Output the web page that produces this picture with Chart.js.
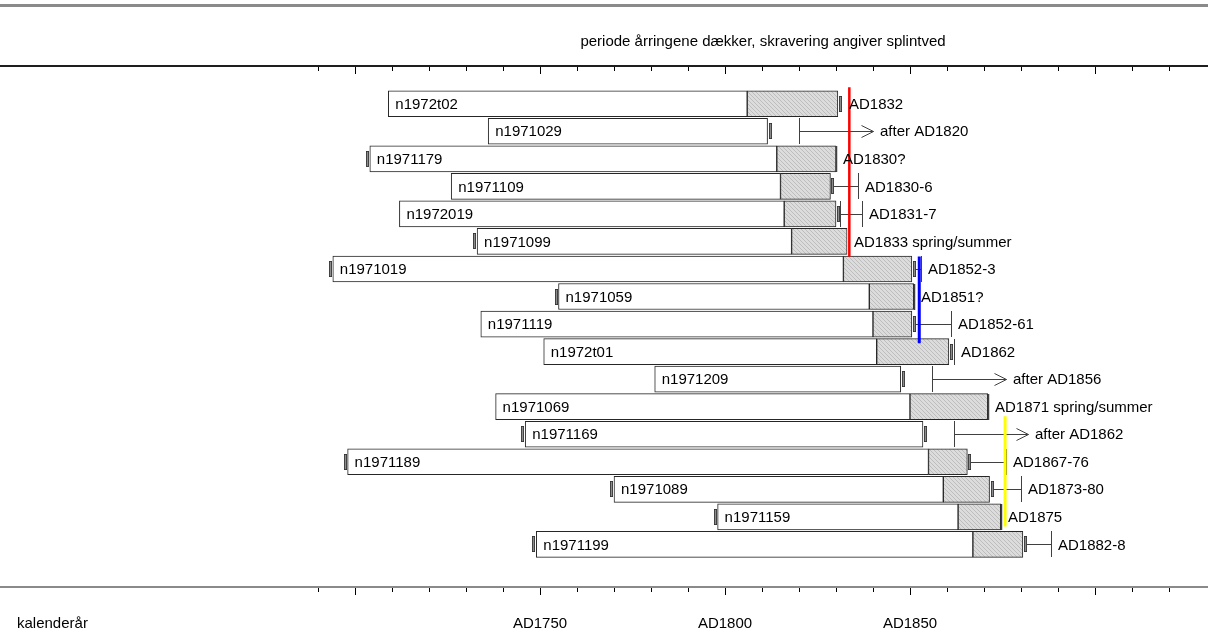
<!DOCTYPE html>
<html>
<head>
<meta charset="utf-8">
<script src="https://cdn.jsdelivr.net/npm/chart.js@4"></script>
<style>
  html, body { margin: 0; padding: 0; background: #fff; }
  #wrap { width: 1208px; height: 641px; }
</style>
</head>
<body>
<div id="wrap"><canvas id="chart"></canvas></div>
<script>
// samples, top to bottom
const names = ['n1972t02', 'n1971029', 'n1971179', 'n1971109', 'n1972019', 'n1971099',
  'n1971019', 'n1971059', 'n1971119', 'n1972t01', 'n1971209', 'n1971069',
  'n1971169', 'n1971189', 'n1971089', 'n1971159', 'n1971199'];
const starts    = [1709, 1736, 1704, 1726, 1712, 1733, 1694, 1755, 1734, 1751, 1781, 1738, 1746, 1698, 1770, 1798, 1749];
const sapStarts = [1806, null, 1814, 1815, 1816, 1818, 1832, 1839, 1840, 1841, null, 1850, null, 1855, 1859, 1863, 1867];
const ends      = [1830.5, 1811.5, 1830, 1828.5, 1830, 1833, 1850.5, 1851, 1850.5, 1860.5, 1847.5, 1871, 1853.5, 1865.5, 1871.5, 1874.5, 1880.5];
const pith      = [false, false, true, false, false, true, true, true, false, false, false, false, true, true, true, true, true];
const waney     = [true, true, false, true, true, false, true, false, true, true, true, false, true, true, true, false, true];
const barkEdge  = [false, false, true, false, false, false, false, true, false, false, false, true, false, false, false, true, false];
const fellFrom  = [null, null, null, null, 1831, null, null, null, null, 1862, null, null, null, null, null, null, null];
const fellTo    = [null, null, null, 1836, 1837, null, 1853, null, 1861, null, null, null, null, 1876, 1880, null, 1888];
const afterYear = [null, 1820, null, null, null, null, null, null, null, null, 1856, null, 1862, null, null, null, null];
const dates = ['AD1832', 'after AD1820', 'AD1830?', 'AD1830-6', 'AD1831-7', 'AD1833 spring/summer',
  'AD1852-3', 'AD1851?', 'AD1852-61', 'AD1862', 'after AD1856', 'AD1871 spring/summer',
  'after AD1862', 'AD1867-76', 'AD1873-80', 'AD1875', 'AD1882-8'];

// coloured felling-phase lines: year, first row, last row (row units)
const phaseYears = [1833.6, 1852.5, 1875.7];
const phaseFrom  = [-0.6, 5.55, 11.35];
const phaseTo    = [5.55, 8.7, 15.35];
const phaseColors = ['#ff0000', '#0000ff', '#ffff00'];

const tickLabelYears = [1750, 1800, 1850];
const tickLabels = ['AD1750', 'AD1800', 'AD1850'];
const title = 'periode årringene dækker, skravering angiver splintved';
const axisTitle = 'kalenderår';

const xMin = 1604.05, xMax = 1930.54;
const yMin = -1.37, yMax = 17.51;
const FONT = "15px 'Liberation Sans', Arial, sans-serif";

function hatch() {
  const c = document.createElement('canvas');
  c.width = 4; c.height = 4;
  const g = c.getContext('2d');
  g.fillStyle = '#dcdcdc';
  g.fillRect(0, 0, 4, 4);
  g.strokeStyle = '#bdbdbd';
  g.lineWidth = 1;
  g.beginPath();
  g.moveTo(0, 0); g.lineTo(4, 4);
  g.moveTo(-1, 3); g.lineTo(1, 5);
  g.moveTo(3, -1); g.lineTo(5, 1);
  g.stroke();
  return g.createPattern(c, 'repeat');
}

function mark(ctx, x0, yc) {
  ctx.fillStyle = '#8c8c8c';
  ctx.fillRect(x0, yc - 8, 3, 16);
  ctx.strokeStyle = '#303030';
  ctx.lineWidth = 0.8;
  ctx.strokeRect(x0 + 0.4, yc - 7.6, 2.2, 15.2);
}

function seg(ctx, x1, y1, x2, y2) {
  ctx.beginPath();
  ctx.moveTo(x1, y1);
  ctx.lineTo(x2, y2);
  ctx.stroke();
}

const half = 13;

function rightEdge(x, i) {
  let right = Math.round(x.getPixelForValue(ends[i]));
  if (waney[i]) right += 4;
  if (fellFrom[i] != null) right = Math.max(right, Math.round(x.getPixelForValue(fellFrom[i])));
  if (fellTo[i] != null) right = Math.round(x.getPixelForValue(fellTo[i]));
  if (afterYear[i] != null) right = Math.round(x.getPixelForValue(afterYear[i])) + 74;
  return right;
}

const overlay = {
  id: 'overlay',
  afterDatasetDraw(chart, args) {
    if (args.index !== 4) return; // after sapwood bars, before phase lines
    const { ctx, scales: { x, y } } = chart;
    ctx.save();
    names.forEach((n, i) => {
      const yc = Math.round(y.getPixelForValue(i));
      const xs = Math.round(x.getPixelForValue(starts[i]));
      const xe = Math.round(x.getPixelForValue(ends[i]));
      let right = xe;
      if (pith[i]) mark(ctx, xs - 4, yc);
      if (waney[i]) { mark(ctx, xe + 1, yc); right = xe + 4; }
      ctx.strokeStyle = '#404040';
      ctx.lineWidth = 1;
      if (barkEdge[i]) { ctx.lineWidth = 1.5; seg(ctx, xe + 0.5, yc - half, xe + 0.5, yc + half); ctx.lineWidth = 1; }
      if (fellFrom[i] != null) {
        const xf = Math.round(x.getPixelForValue(fellFrom[i])) + 0.5;
        seg(ctx, xf, yc - half, xf, yc + half);
      }
      if (fellTo[i] != null) {
        const xt = Math.round(x.getPixelForValue(fellTo[i])) + 0.5;
        seg(ctx, right, yc + 0.5, xt, yc + 0.5);
        seg(ctx, xt, yc - half, xt, yc + half);
      }
      if (afterYear[i] != null) {
        const xa = Math.round(x.getPixelForValue(afterYear[i])) + 0.5;
        const tip = xa + 74;
        seg(ctx, xa, yc - half, xa, yc + half);
        seg(ctx, xa, yc + 0.5, tip, yc + 0.5);
        ctx.beginPath();
        ctx.moveTo(tip - 12, yc - 5.5);
        ctx.lineTo(tip, yc + 0.5);
        ctx.lineTo(tip - 12, yc + 6.5);
        ctx.stroke();
      }
    });
    ctx.restore();
  },
  afterDatasetsDraw(chart) {
    const { ctx, scales: { x, y } } = chart;
    ctx.save();
    ctx.font = FONT;
    ctx.fillStyle = '#000';
    ctx.textBaseline = 'middle';
    ctx.textAlign = 'left';
    names.forEach((n, i) => {
      const yc = y.getPixelForValue(i) + 1;
      ctx.fillText(n, x.getPixelForValue(starts[i]) + 7, yc);
      ctx.fillText(dates[i], rightEdge(x, i) + 7, yc);
    });
    ctx.restore();
  },
  afterDraw(chart) {
    const { ctx, chartArea: a, scales: { x } } = chart;
    ctx.save();
    // top rule
    ctx.fillStyle = '#8a8a8a';
    ctx.fillRect(0, 4, chart.width, 3);
    // title over the dated span
    ctx.font = FONT;
    ctx.fillStyle = '#000';
    ctx.textBaseline = 'middle';
    ctx.textAlign = 'center';
    ctx.fillText(title, (x.getPixelForValue(1690) + a.right) / 2, 42);
    // axis lines
    ctx.fillStyle = '#1e1e1e';
    ctx.fillRect(a.left, a.top - 1, a.right - a.left, 2);
    ctx.fillStyle = '#8a8a8a';
    ctx.fillRect(a.left, a.bottom, a.right - a.left, 2);
    // ticks
    ctx.strokeStyle = '#000';
    ctx.lineWidth = 1;
    for (let v = 1690; v <= 1920; v += 10) {
      const px = Math.round(x.getPixelForValue(v)) + 0.5;
      const len = v % 50 === 0 ? 7 : 4;
      seg(ctx, px, a.top + 1, px, a.top + 1 + len);
      seg(ctx, px, a.bottom + 2, px, a.bottom + 2 + len);
    }
    // tick labels
    ctx.fillStyle = '#000';
    tickLabelYears.forEach((v, k) => {
      ctx.fillText(tickLabels[k], x.getPixelForValue(v), 624);
    });
    ctx.textAlign = 'left';
    ctx.fillText(axisTitle, 17, 624);
    ctx.restore();
  }
};

const heartData = names.map((n, i) => ({ x: [starts[i], sapStarts[i] != null ? sapStarts[i] : ends[i]], y: i }));
const sapData = names.map((n, i) => sapStarts[i] != null ? { x: [sapStarts[i], ends[i]], y: i } : null).filter(Boolean);

const phaseSets = phaseYears.map((yr, k) => ({
  type: 'line',
  data: [{ x: yr, y: phaseFrom[k] }, { x: yr, y: phaseTo[k] }],
  borderColor: phaseColors[k],
  borderWidth: k === 0 ? 2.5 : 3,
  pointRadius: 0,
  order: 1
}));

const chart = new Chart(document.getElementById('chart'), {
  type: 'bar',
  data: {
    datasets: [
      ...phaseSets,
      {
        data: heartData,
        backgroundColor: '#ffffff',
        borderColor: '#262626',
        borderWidth: 1,
        borderSkipped: false,
        barThickness: 26,
        grouped: false,
        order: 4
      },
      {
        data: sapData,
        backgroundColor: hatch(),
        borderColor: '#262626',
        borderWidth: 1,
        borderSkipped: false,
        barThickness: 26,
        grouped: false,
        order: 3
      }
    ]
  },
  options: {
    indexAxis: 'y',
    responsive: true,
    maintainAspectRatio: false,
    animation: false,
    events: [],
    layout: { padding: { top: 66, bottom: 55, left: 0, right: 0 } },
    scales: {
      x: { type: 'linear', min: xMin, max: xMax, offset: false, display: false },
      y: { type: 'linear', min: yMin, max: yMax, reverse: true, offset: false, display: false }
    },
    plugins: {
      legend: { display: false },
      tooltip: { enabled: false }
    }
  },
  plugins: [overlay]
});
</script>
</body>
</html>
